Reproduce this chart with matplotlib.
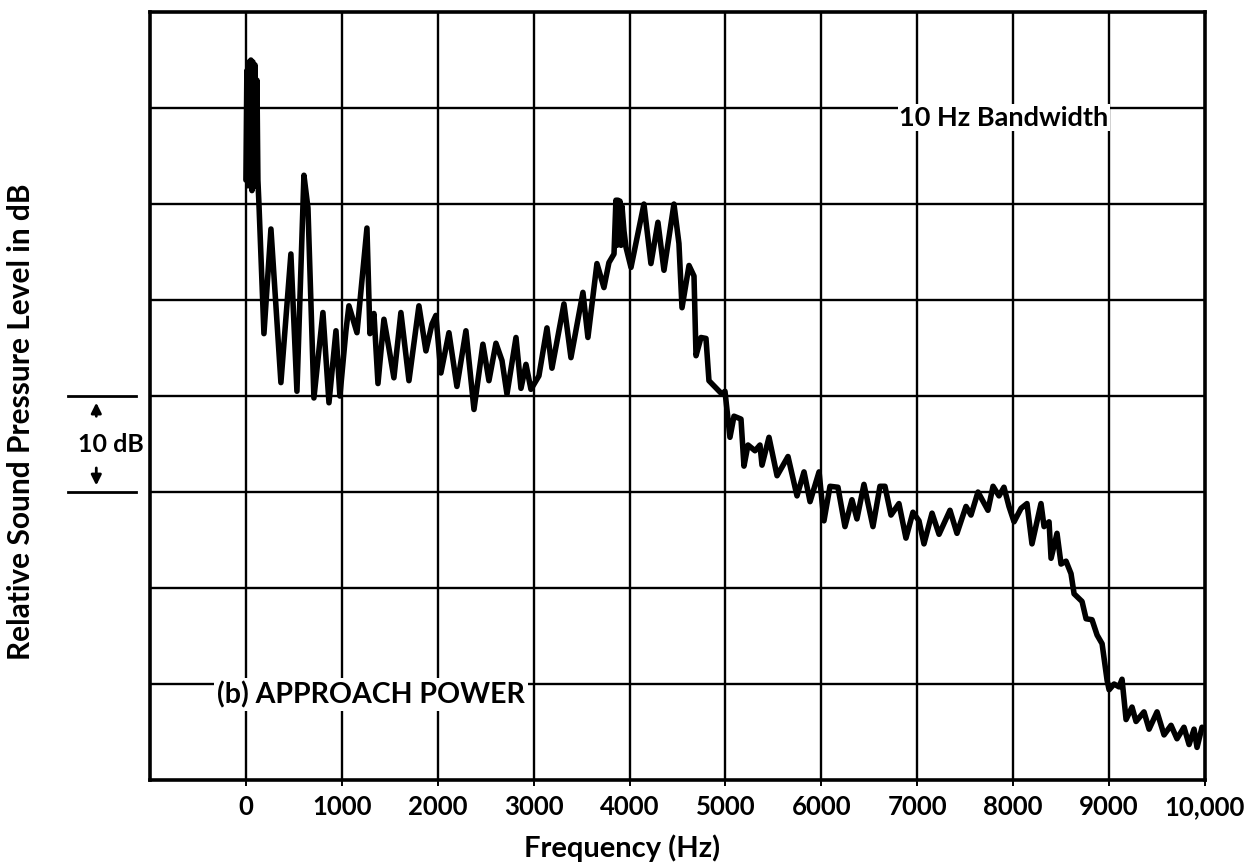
#!/usr/bin/env python3
"""Recreate the 10 Hz bandwidth spectrum plot (b) APPROACH POWER."""

import matplotlib
matplotlib.use('Agg')
import matplotlib.pyplot as plt

plt.rcParams['font.family'] = ['Lato', 'DejaVu Sans']
plt.rcParams['font.weight'] = 'bold'

# ── Data ─────────────────────────────────────────────────────────────────────
freq_hz = [
    0, 10, 21, 31, 42, 52, 63, 73, 83, 94, 104, 115, 125, 136,
    188, 261, 365, 469, 532, 605, 647, 709, 803, 866, 939, 980,
    1043, 1074, 1158, 1262, 1293, 1335, 1377, 1439, 1491, 1543,
    1616, 1700, 1804, 1877, 1940, 1981, 2033, 2117, 2200, 2294,
    2378, 2471, 2534, 2607, 2670, 2722, 2816, 2868, 2920, 2972,
    3055, 3139, 3191, 3316, 3389, 3514, 3566, 3660, 3733, 3785,
    3838, 3858, 3869, 3879, 3890, 3900, 3911, 3921, 3942, 3963,
    4015, 4150, 4223, 4296, 4359, 4463, 4515, 4547, 4620, 4672,
    4693, 4745, 4797, 4828, 4964, 4995, 5047, 5089, 5162, 5193,
    5235, 5308, 5360, 5381, 5454, 5538, 5652, 5746, 5819, 5882,
    5976, 6027, 6090, 6173, 6246, 6319, 6371, 6444, 6538, 6611,
    6663, 6726, 6809, 6882, 6955, 7018, 7070, 7154, 7227, 7341,
    7414, 7508, 7560, 7633, 7737, 7790, 7852, 7904, 7956, 8009,
    8082, 8144, 8196, 8290, 8322, 8374, 8395, 8457, 8499, 8551,
    8603, 8635, 8666, 8718, 8760, 8822, 8875, 8927, 8979, 9000,
    9052, 9104, 9135, 9177, 9239, 9281, 9364, 9417, 9500, 9573,
    9646, 9708, 9781, 9834, 9886, 9917, 9969,
]
level_db = [
    62.5, 73.9, 61.9, 74.8, 63.0, 75.0, 61.4, 74.8, 63.5, 74.5, 61.9, 72.9, 62.5, 60.0,
    46.5, 57.4, 41.4, 54.8, 40.5, 63.0, 59.6, 39.8, 48.7, 39.3, 46.8, 40.0,
    46.8, 49.4, 46.6, 57.5, 46.5, 48.6, 41.3, 48.0, 45.0, 41.9,
    48.7, 41.6, 49.4, 44.7, 47.5, 48.4, 42.4, 46.6, 41.0, 46.8,
    38.6, 45.4, 41.6, 45.5, 43.7, 40.2, 46.1, 40.8, 43.3, 40.7,
    42.1, 47.1, 42.9, 49.6, 44.0, 50.8, 46.1, 53.8, 51.3, 53.9,
    54.8, 60.4, 55.7, 60.4, 56.2, 60.3, 55.7, 59.8, 57.2, 55.5,
    53.4, 60.0, 53.8, 58.1, 53.1, 60.0, 55.9, 49.2, 53.6, 52.5,
    44.2, 46.1, 46.0, 41.6, 40.2, 40.5, 35.7, 37.9, 37.6, 32.7,
    34.9, 34.3, 34.9, 32.8, 35.7, 31.7, 33.7, 29.6, 32.1, 29.0,
    32.1, 27.0, 30.6, 30.5, 26.4, 29.2, 27.2, 30.8, 26.4, 30.6,
    30.6, 27.6, 28.8, 25.2, 27.9, 27.0, 24.6, 27.8, 25.6, 28.1,
    25.7, 28.5, 27.6, 30.0, 28.1, 30.6, 29.6, 30.5, 28.5, 26.9,
    28.3, 28.8, 24.6, 28.8, 26.4, 26.9, 23.1, 25.7, 22.5, 22.8,
    21.5, 19.4, 19.1, 18.6, 16.8, 16.7, 15.1, 14.2, 10.4, 9.4,
    10.0, 9.7, 10.5, 6.3, 7.6, 6.1, 7.1, 5.3, 7.1, 4.7,
    5.7, 4.3, 5.5, 3.7, 5.3, 3.4, 5.5,
]

tick_hz = [0, 1000, 2000, 3000, 4000, 5000, 6000, 7000, 8000, 9000, 10000]
tick_labels = ['0', '1000', '2000', '3000', '4000', '5000',
               '6000', '7000', '8000', '9000', '10,000']
grid_db = [10, 20, 30, 40, 50, 60, 70]

# ── Figure ───────────────────────────────────────────────────────────────────
fig = plt.figure(figsize=(12.5, 8.67), dpi=100)
ax = fig.add_axes([0.12, 0.1003, 0.844, 0.8858])

ax.set_xlim(-1000, 10000)
ax.set_ylim(0, 80)

for f in tick_hz[:-1]:
    ax.axvline(f, color='black', linewidth=1.7, zorder=1)
for d in grid_db:
    ax.axhline(d, color='black', linewidth=1.7, zorder=1)

ax.plot(freq_hz, level_db, color='black', linewidth=4.0,
        solid_joinstyle='round', solid_capstyle='round', zorder=3)

for side in ax.spines.values():
    side.set_linewidth(2.6)

ax.set_xticks(tick_hz)
ax.set_xticklabels(tick_labels, fontsize=18.5, fontweight='bold')
ax.tick_params(axis='x', length=4, width=1.4, pad=7)
ax.set_yticks([])

# ── Annotations ──────────────────────────────────────────────────────────────
ax.text(7900, 69.0, '10 Hz Bandwidth', fontsize=19.5, fontweight='bold',
        ha='center', va='center', zorder=4,
        bbox=dict(facecolor='white', edgecolor='none', pad=1))
ax.text(-300, 8.9, '(b) APPROACH POWER', fontsize=20.5, fontweight='bold',
        ha='left', va='center', zorder=4,
        bbox=dict(facecolor='white', edgecolor='none', pad=2))

# 10 dB scale marker left of the frame
ax.plot([-1850, -1150], [40, 40], color='black', linewidth=2.0, clip_on=False)
ax.plot([-1850, -1150], [30, 30], color='black', linewidth=2.0, clip_on=False)
ax.annotate('', xy=(-1560, 39.6), xytext=(-1560, 37.6),
            arrowprops=dict(arrowstyle='-|>', color='black', lw=2.0,
                            mutation_scale=15),
            annotation_clip=False)
ax.annotate('', xy=(-1560, 30.4), xytext=(-1560, 32.8),
            arrowprops=dict(arrowstyle='-|>', color='black', lw=2.0,
                            mutation_scale=15),
            annotation_clip=False)
ax.text(-1410, 35.0, '10 dB', fontsize=18, fontweight='bold',
        ha='center', va='center', clip_on=False)

fig.text(0.498, 0.022, 'Frequency (Hz)', fontsize=21, fontweight='bold',
         ha='center', va='center')
fig.text(0.017, 0.513, 'Relative Sound Pressure Level in dB', fontsize=21.5,
         fontweight='bold', rotation=90, ha='center', va='center')

fig.savefig('out.png', dpi=100)
